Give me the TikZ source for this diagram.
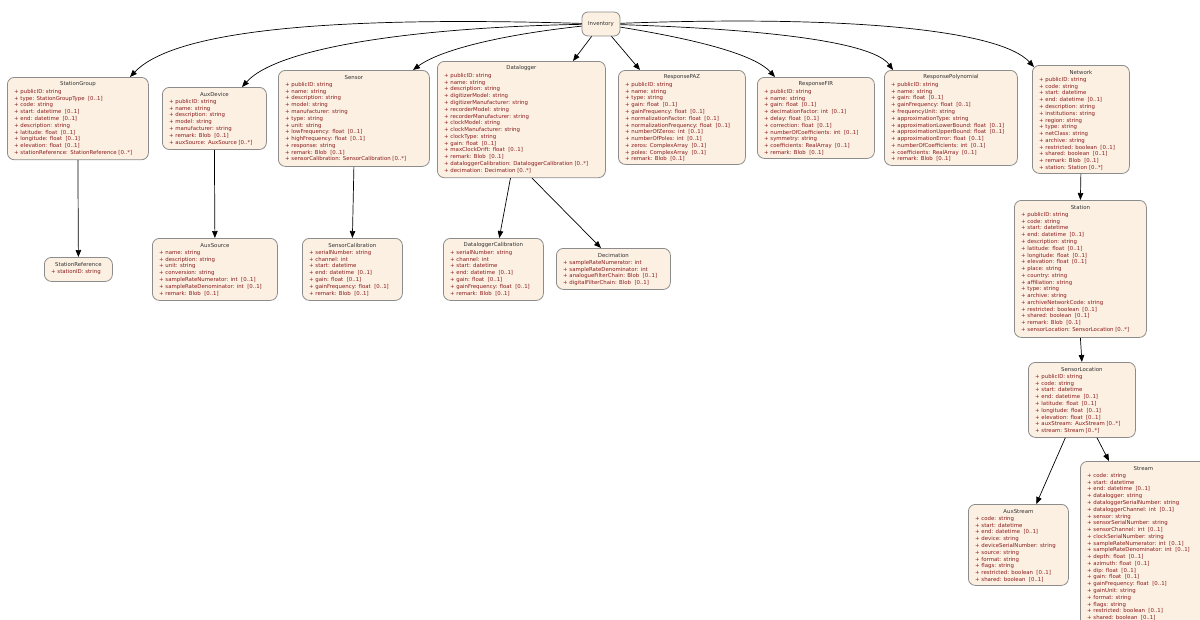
\documentclass[tikz,border=0pt]{standalone}
\usepackage{fontspec}
\setmainfont{DejaVu Sans}
\usetikzlibrary{arrows.meta,calc}
\definecolor{boxfill}{HTML}{FBF0E2}
\definecolor{boxline}{HTML}{8C8C8C}
\definecolor{attrcol}{HTML}{8B1C1C}
\definecolor{ttlcol}{HTML}{333333}
\tikzset{
 box/.style={draw=boxline, fill=boxfill, rounded corners=7pt, line width=0.8pt, inner sep=0pt},
 ttl/.style={font=\fontsize{5.4}{6}\selectfont, text=ttlcol, inner sep=0pt},
 attrs/.style={font=\fontsize{5.4}{6.77}\selectfont, text=attrcol, align=left, inner sep=0pt, anchor=north west},
 edge/.style={draw=black, line width=0.7pt, -{Triangle[length=7pt,width=5.5pt]}},
}
\newcommand\umlbox[7]{%
 \node[box, minimum width=#4pt, minimum height=#5pt, anchor=north west] (#1) at (#2,#3) {};
 \node[ttl] (#1-t) at ($(#1.north)+(0,7.5)$) {#6};
 \node[attrs] (#1-a) at ($(#1.north west)+(7,12.1)$) {#7};
}
\begin{document}
\begin{tikzpicture}[x=1pt,y=-1pt]
\useasboundingbox (0,0) rectangle (1200,619);
\clip (0,0) rectangle (1200,619);
\fill[white] (0,0) rectangle (1200,619);

\node[box, rounded corners=6pt, minimum width=38pt, minimum height=24pt, font=\fontsize{5.4}{6}\selectfont, text=ttlcol] (inv) at (601,24) {Inventory};

\umlbox{sg}{7}{77}{141}{82.4}{StationGroup}{+ publicID: string\\+ type: StationGroupType~~[0..1]\\+ code: string\\+ start: datetime~~[0..1]\\+ end: datetime~~[0..1]\\+ description: string\\+ latitude: float~~[0..1]\\+ longitude: float~~[0..1]\\+ elevation: float~~[0..1]\\+ stationReference: StationReference [0..*]}

\umlbox{ad}{162}{87}{104}{62.1}{AuxDevice}{+ publicID: string\\+ name: string\\+ description: string\\+ model: string\\+ manufacturer: string\\+ remark: Blob~~[0..1]\\+ auxSource: AuxSource [0..*]}

\umlbox{sn}{278}{70}{151}{96}{Sensor}{+ publicID: string\\+ name: string\\+ description: string\\+ model: string\\+ manufacturer: string\\+ type: string\\+ unit: string\\+ lowFrequency: float~~[0..1]\\+ highFrequency: float~~[0..1]\\+ response: string\\+ remark: Blob~~[0..1]\\+ sensorCalibration: SensorCalibration [0..*]}

\umlbox{dl}{437}{61}{168}{116.3}{Datalogger}{+ publicID: string\\+ name: string\\+ description: string\\+ digitizerModel: string\\+ digitizerManufacturer: string\\+ recorderModel: string\\+ recorderManufacturer: string\\+ clockModel: string\\+ clockManufacturer: string\\+ clockType: string\\+ gain: float~~[0..1]\\+ maxClockDrift: float~~[0..1]\\+ remark: Blob~~[0..1]\\+ dataloggerCalibration: DataloggerCalibration [0..*]\\+ decimation: Decimation [0..*]}

\umlbox{paz}{618}{70}{127}{94}{ResponsePAZ}{+ publicID: string\\+ name: string\\+ type: string\\+ gain: float~~[0..1]\\+ gainFrequency: float~~[0..1]\\+ normalizationFactor: float~~[0..1]\\+ normalizationFrequency: float~~[0..1]\\+ numberOfZeros: int~~[0..1]\\+ numberOfPoles: int~~[0..1]\\+ zeros: ComplexArray~~[0..1]\\+ poles: ComplexArray~~[0..1]\\+ remark: Blob~~[0..1]}

\umlbox{fir}{757}{77}{117}{81}{ResponseFIR}{+ publicID: string\\+ name: string\\+ gain: float~~[0..1]\\+ decimationFactor: int~~[0..1]\\+ delay: float~~[0..1]\\+ correction: float~~[0..1]\\+ numberOfCoefficients: int~~[0..1]\\+ symmetry: string\\+ coefficients: RealArray~~[0..1]\\+ remark: Blob~~[0..1]}

\umlbox{poly}{884}{70}{133}{95}{ResponsePolynomial}{+ publicID: string\\+ name: string\\+ gain: float~~[0..1]\\+ gainFrequency: float~~[0..1]\\+ frequencyUnit: string\\+ approximationType: string\\+ approximationLowerBound: float~~[0..1]\\+ approximationUpperBound: float~~[0..1]\\+ approximationError: float~~[0..1]\\+ numberOfCoefficients: int~~[0..1]\\+ coefficients: RealArray~~[0..1]\\+ remark: Blob~~[0..1]}

\umlbox{net}{1032}{65}{97}{108}{Network}{+ publicID: string\\+ code: string\\+ start: datetime\\+ end: datetime~~[0..1]\\+ description: string\\+ institutions: string\\+ region: string\\+ type: string\\+ netClass: string\\+ archive: string\\+ restricted: boolean~~[0..1]\\+ shared: boolean~~[0..1]\\+ remark: Blob~~[0..1]\\+ station: Station [0..*]}

\umlbox{sr}{44}{257}{68}{24}{StationReference}{+ stationID: string}

\umlbox{as}{152}{238}{125}{62}{AuxSource}{+ name: string\\+ description: string\\+ unit: string\\+ conversion: string\\+ sampleRateNumerator: int~~[0..1]\\+ sampleRateDenominator: int~~[0..1]\\+ remark: Blob~~[0..1]}

\umlbox{sc}{302}{238}{100}{62}{SensorCalibration}{+ serialNumber: string\\+ channel: int\\+ start: datetime\\+ end: datetime~~[0..1]\\+ gain: float~~[0..1]\\+ gainFrequency: float~~[0..1]\\+ remark: Blob~~[0..1]}

\umlbox{dc}{443}{238}{100}{62}{DataloggerCalibration}{+ serialNumber: string\\+ channel: int\\+ start: datetime\\+ end: datetime~~[0..1]\\+ gain: float~~[0..1]\\+ gainFrequency: float~~[0..1]\\+ remark: Blob~~[0..1]}

\umlbox{dec}{556}{248}{114}{41}{Decimation}{+ sampleRateNumerator: int\\+ sampleRateDenominator: int\\+ analogueFilterChain: Blob~~[0..1]\\+ digitalFilterChain: Blob~~[0..1]}

\umlbox{st}{1014}{200}{132}{137}{Station}{+ publicID: string\\+ code: string\\+ start: datetime\\+ end: datetime~~[0..1]\\+ description: string\\+ latitude: float~~[0..1]\\+ longitude: float~~[0..1]\\+ elevation: float~~[0..1]\\+ place: string\\+ country: string\\+ affiliation: string\\+ type: string\\+ archive: string\\+ archiveNetworkCode: string\\+ restricted: boolean~~[0..1]\\+ shared: boolean~~[0..1]\\+ remark: Blob~~[0..1]\\+ sensorLocation: SensorLocation [0..*]}

\umlbox{sl}{1028}{362}{107}{75}{SensorLocation}{+ publicID: string\\+ code: string\\+ start: datetime\\+ end: datetime~~[0..1]\\+ latitude: float~~[0..1]\\+ longitude: float~~[0..1]\\+ elevation: float~~[0..1]\\+ auxStream: AuxStream [0..*]\\+ stream: Stream [0..*]}

\umlbox{ax}{968}{504}{100}{81}{AuxStream}{+ code: string\\+ start: datetime\\+ end: datetime~~[0..1]\\+ device: string\\+ deviceSerialNumber: string\\+ source: string\\+ format: string\\+ flags: string\\+ restricted: boolean~~[0..1]\\+ shared: boolean~~[0..1]}

\umlbox{stm}{1080}{461}{126}{170}{Stream}{+ code: string\\+ start: datetime\\+ end: datetime~~[0..1]\\+ datalogger: string\\+ dataloggerSerialNumber: string\\+ dataloggerChannel: int~~[0..1]\\+ sensor: string\\+ sensorSerialNumber: string\\+ sensorChannel: int~~[0..1]\\+ clockSerialNumber: string\\+ sampleRateNumerator: int~~[0..1]\\+ sampleRateDenominator: int~~[0..1]\\+ depth: float~~[0..1]\\+ azimuth: float~~[0..1]\\+ dip: float~~[0..1]\\+ gain: float~~[0..1]\\+ gainFrequency: float~~[0..1]\\+ gainUnit: string\\+ format: string\\+ flags: string\\+ restricted: boolean~~[0..1]\\+ shared: boolean~~[0..1]}

% edges from Inventory
\draw[edge] (inv) .. controls (300,15) and (170,35) .. ($(sg.north west)+(123,0)$);
\draw[edge] (inv) .. controls (430,27) and (280,45) .. ($(ad.north west)+(80,0)$);
\draw[edge] (inv) .. controls (500,35) and (440,50) .. ($(sn.north west)+(135,0)$);
\draw[edge] (inv) -- ($(dl.north west)+(136,0)$);
\draw[edge] (inv) -- ($(paz.north west)+(22,0)$);
\draw[edge] (inv) .. controls (700,40) and (755,55) .. ($(fir.north west)+(18,0)$);
\draw[edge] (inv) .. controls (790,30) and (875,45) .. ($(poly.north west)+(9,0)$);
\draw[edge] (inv) .. controls (850,15) and (1000,30) .. ($(net.north west)+(2,2)$);

% other edges
\draw[edge] (sg.south) -- (sr.north);
\draw[edge] (ad.south) -- (as.north);
\draw[edge] (sn.south) -- (sc.north);
\draw[edge] (dl) -- (dc);
\draw[edge] ($(dl.south west)+(95,0)$) -- ($(dec.north west)+(45,0)$);
\draw[edge] (net.south) -- (st.north);
\draw[edge] (st.south) -- (sl.north);
\draw[edge] (sl) -- (ax);
\draw[edge] ($(sl.south west)+(69,0)$) -- ($(stm.north west)+(29,0)$);
\end{tikzpicture}
\end{document}
